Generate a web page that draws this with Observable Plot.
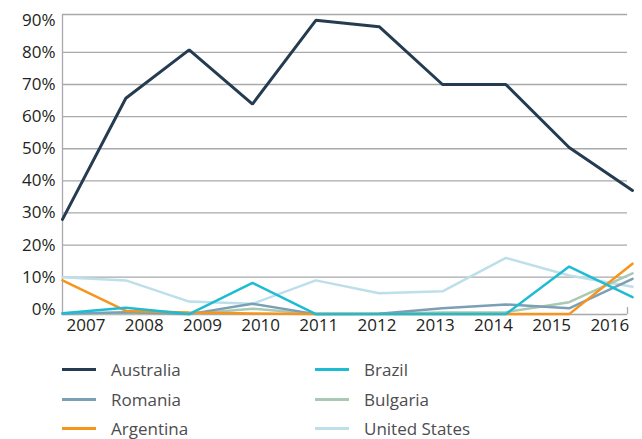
<!DOCTYPE html>
<html>
<head>
<meta charset="utf-8">
<script src="https://cdn.jsdelivr.net/npm/d3@7"></script>
<script src="https://cdn.jsdelivr.net/npm/@observablehq/plot@0.6"></script>
<style>
  html, body { margin: 0; padding: 0; background: #fff; }
  #wrap { width: 642px; height: 439px; position: relative; font-family: "Open Sans", sans-serif; }
  #legend { position: relative; width: 642px; height: 94px; }
  .item { position: absolute; display: flex; align-items: center; font-size: 17px; color: #4d4d4f; }
  .sw { width: 34px; height: 3px; margin-right: 15px; }
</style>
</head>
<body>
<div id="wrap">
  <div id="chart"></div>
  <div id="legend"></div>
</div>
<script>
const years = [2007, 2008, 2009, 2010, 2011, 2012, 2013, 2014, 2015, 2016];
const australia = [0.28, 0.657, 0.808, 0.639, 0.90, 0.88, 0.70, 0.70, 0.504, 0.37];
const brazil    = [-0.012, 0.005, -0.015, 0.082, -0.015, -0.015, -0.015, -0.015, 0.133, 0.038];
const romania   = [-0.014, -0.009, -0.015, 0.017, -0.015, -0.014, 0.003, 0.015, 0.003, 0.095];
const bulgaria  = [-0.015, -0.012, -0.015, 0.002, -0.015, -0.014, -0.010, -0.009, 0.022, 0.112];
const argentina = [0.09, -0.005, -0.010, -0.013, -0.015, -0.015, -0.015, -0.015, -0.015, 0.142];
const unitedStates = [0.10, 0.09, 0.024, 0.017, 0.09, 0.05, 0.056, 0.16, 0.105, 0.07];
const yTicks = [0, 0.1, 0.2, 0.3, 0.4, 0.5, 0.6, 0.7, 0.8, 0.9];
const gridTicks = [0.1, 0.2, 0.3, 0.4, 0.5, 0.6, 0.7, 0.8];

const series = [
  {name: "Australia", values: australia, color: "#243b50", width: 3, col: 0, row: 0},
  {name: "Romania", values: romania, color: "#7b9fb5", width: 2.5, col: 0, row: 1},
  {name: "Argentina", values: argentina, color: "#f7941d", width: 2.5, col: 0, row: 2},
  {name: "Brazil", values: brazil, color: "#1ebcd3", width: 2.5, col: 1, row: 0},
  {name: "Bulgaria", values: bulgaria, color: "#a9c9b3", width: 2.5, col: 1, row: 1},
  {name: "United States", values: unitedStates, color: "#bcdfea", width: 2.5, col: 1, row: 2}
];
const drawOrder = ["United States", "Bulgaria", "Romania", "Argentina", "Brazil", "Australia"];

const rows = [];
for (const s of series) {
  years.forEach((yr, i) => rows.push({name: s.name, year: yr, value: s.values[i]}));
}

const yMin = -0.0162, yMax = 0.918;
const gridColor = "#a8a9ad";
const lineMarks = drawOrder.map(n => {
  const s = series.find(d => d.name === n);
  return Plot.line(rows.filter(r => r.name === n), {
    x: "year", y: "value", stroke: s.color, strokeWidth: s.width, strokeLinejoin: "miter"
  });
});

const chart = Plot.plot({
  width: 642,
  height: 345,
  marginLeft: 62,
  marginRight: 10,
  marginTop: 14,
  marginBottom: 31,
  style: {fontFamily: "Open Sans, sans-serif", background: "#fff", overflow: "visible"},
  x: {type: "linear", domain: [2007, 2016], axis: null},
  y: {type: "linear", domain: [yMin, yMax], axis: null},
  marks: [
    Plot.ruleY(gridTicks, {stroke: gridColor, strokeWidth: 1.3, insetRight: 5}),
    Plot.ruleY([yMax], {stroke: gridColor, strokeWidth: 1.3, insetRight: 5}),
    Plot.ruleY([yMin], {stroke: gridColor, strokeWidth: 1.3, insetRight: 5}),
    Plot.ruleX([2007], {y1: yMin, y2: yMax, stroke: gridColor, strokeWidth: 1.3}),
    Plot.ruleX([2016], {y1: yMin, y2: yMin, stroke: gridColor, strokeWidth: 1.3, dx: -5, insetTop: -7}),
    Plot.axisY(yTicks, {tickSize: 0, tickPadding: 7, fontSize: 17, fill: "#231f20",
      tickFormat: d => Math.round(d * 100) + "%", label: null}),
    Plot.text(years, {x: d => 2007.371 + (d - 2007) * 0.919, frameAnchor: "bottom", dy: 16,
      text: d => String(d), fontSize: 17, fill: "#231f20"}),
    ...lineMarks
  ]
});
document.getElementById("chart").appendChild(chart);

const legend = document.getElementById("legend");
const colLeft = [62, 315];
const rowTop = [24, 54, 83];
for (const s of series) {
  const it = document.createElement("div");
  it.className = "item";
  it.style.left = colLeft[s.col] + "px";
  it.style.top = (rowTop[s.row] - 12) + "px";
  it.style.height = "24px";
  const sw = document.createElement("div");
  sw.className = "sw";
  sw.style.background = s.color;
  const tx = document.createElement("span");
  tx.textContent = s.name;
  it.appendChild(sw);
  it.appendChild(tx);
  legend.appendChild(it);
}
</script>
</body>
</html>
